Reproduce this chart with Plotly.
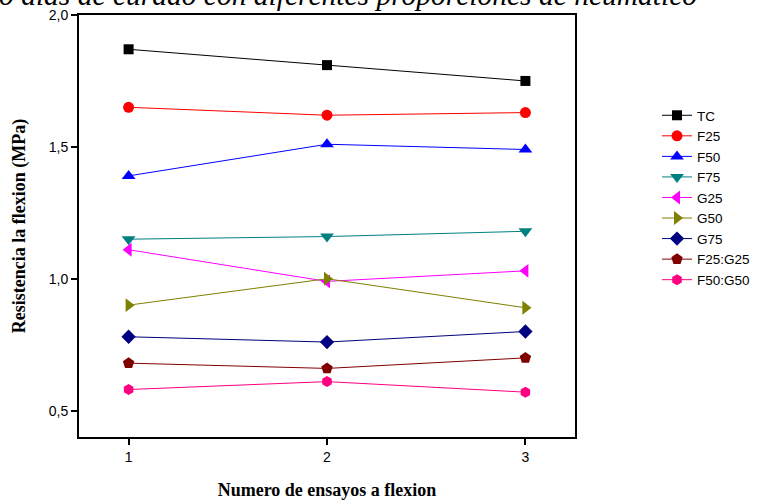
import plotly.graph_objects as go

ensayos = [1, 2, 3]
series_names = ["TC", "F25", "F50", "F75", "G25", "G50", "G75", "F25:G25", "F50:G50"]
tc = [1.87, 1.81, 1.75]
f25 = [1.65, 1.62, 1.63]
f50 = [1.39, 1.51, 1.49]
f75 = [1.15, 1.16, 1.18]
g25 = [1.11, 0.99, 1.03]
g50 = [0.90, 1.00, 0.89]
g75 = [0.78, 0.76, 0.80]
f25g25 = [0.68, 0.66, 0.70]
f50g50 = [0.58, 0.61, 0.57]
y_ticks = [0.5, 1.0, 1.5, 2.0]
x_ticks = [1, 2, 3]

values = [tc, f25, f50, f75, g25, g50, g75, f25g25, f50g50]
colors = ["#000000", "#FF0000", "#0000FF", "#008080", "#FF00FF", "#808000",
          "#000080", "#800000", "#FF0080"]
symbols = ["square", "circle", "triangle-up", "triangle-down", "triangle-left",
           "triangle-right", "diamond", "pentagon", "hexagon"]
sizes = [10, 11, 12, 12, 12, 12, 11, 12, 11]

fig = go.Figure()
for name, vals, c, s, sz in zip(series_names, values, colors, symbols, sizes):
    fig.add_trace(go.Scatter(
        x=ensayos, y=vals, name=name, mode="lines+markers",
        line=dict(color=c, width=1),
        marker=dict(symbol=s, size=sz, color=c, line=dict(width=0)),
        cliponaxis=False,
    ))

axis_font = dict(family="Liberation Serif", size=18, color="black")

fig.update_layout(
    width=763, height=501,
    margin=dict(l=79, r=188, t=15, b=64, autoexpand=False),
    plot_bgcolor="white", paper_bgcolor="white",
    separators=",.",
    showlegend=True,
    legend=dict(xref="container", yref="container", x=657 / 763, y=1 - 100 / 501,
                xanchor="left", yanchor="top",
                font=dict(family="Liberation Sans", size=13.5, color="black"),
                bgcolor="rgba(0,0,0,0)", tracegroupgap=0),
    xaxis=dict(range=[0.75, 3.25], tickvals=x_ticks, ticks="outside", ticklen=6,
               tickwidth=2, tickcolor="black", showline=True, linewidth=2,
               linecolor="black", mirror=True, showgrid=False, zeroline=False,
               automargin=False,
               tickfont=dict(family="Liberation Sans", size=14, color="black"),
               title=dict(text="<b>Numero de ensayos a flexion</b>", font=axis_font, standoff=20)),
    yaxis=dict(range=[0.4, 2.0], tickvals=y_ticks, tickformat=".1f", ticks="outside",
               ticklen=6, tickwidth=2, tickcolor="black", showline=True, linewidth=2,
               linecolor="black", mirror=True, showgrid=False, zeroline=False,
               automargin=False,
               tickfont=dict(family="Liberation Sans", size=14, color="black"),
               title=dict(text="<b>Resistencia la flexion (MPa)</b>", font=axis_font, standoff=18)),
    annotations=[dict(
        text="<i>o días de curado con diferentes proporciones de neumático</i>",
        xref="paper", yref="paper", x=(-3 - 79) / 496, y=1, xanchor="left", yanchor="bottom",
        yshift=2, showarrow=False,
        font=dict(family="Liberation Serif", size=29.5, color="black"))],
)

fig.write_html("out.html", config={"displayModeBar": False},
               post_script="document.body.style.margin='0';")
